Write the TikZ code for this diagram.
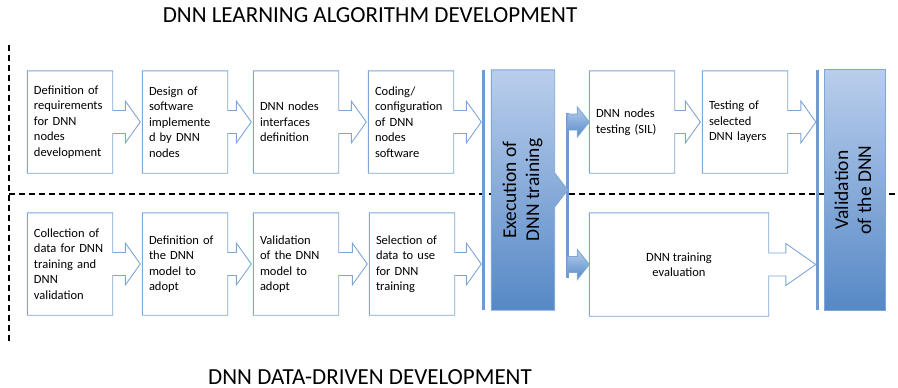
\documentclass[tikz,border=0pt]{standalone}
\usepackage{fontspec}
\setmainfont{Carlito}
\usetikzlibrary{calc, positioning, backgrounds}

\definecolor{boxline}{HTML}{7EA6D6}
\definecolor{barblue}{HTML}{6F9BD2}
\definecolor{shadetop}{HTML}{B9CEEC}
\definecolor{shadebot}{HTML}{5688C6}

\newcommand{\dnncell}{\fontsize{12.5}{15.5}\selectfont}
\newcommand{\dnnstage}{\fontsize{19.5}{23}\selectfont}
\newcommand{\dnntitle}{\fontsize{23}{28}\selectfont}

\newcommand{\callout}[3][15pt]{%
	\coordinate (tip) at ($(#2.east -| #3)+(-2pt,0)$);
	\draw[frame] (#2.north west) -- (#2.north east) -- ([yshift=11.5pt]#2.east) -- ($(tip)+(-#1,11.5pt)$) -- ($(tip)+(-#1,21pt)$) -- (tip) -- ($(tip)+(-#1,-21pt)$) -- ($(tip)+(-#1,-11.5pt)$) -- ([yshift=-11.5pt]#2.east) -- (#2.south east) -- (#2.south west) -- cycle;
}
\newcommand{\feed}[1]{%
	\shadedraw[blueshade] ($(fork |- #1.west)+(0,8pt)$) -- ($(#1.west)+(-12pt,8pt)$) -- ($(#1.west)+(-12pt,15pt)$) -- (#1.west) -- ($(#1.west)+(-12pt,-15pt)$) -- ($(#1.west)+(-12pt,-8pt)$) -- ($(fork |- #1.west)+(0,-8pt)$) -- cycle;
}

\begin{document}
\begin{tikzpicture}[x=1pt, y=1pt, node distance=115pt,
	taskbox/.style={text width=72pt, inner xsep=6.5pt, inner ysep=0pt, minimum height=102pt, align=left, font=\dnncell},
	stagebox/.style={minimum width=63pt, minimum height=240pt, inner sep=0pt, font=\dnnstage},
	frame/.style={draw=boxline, line width=0.9pt},
	gatebar/.style={draw=barblue, line width=3pt},
	separator/.style={line width=2.2pt, dash pattern=on 6pt off 4pt},
	blueshade/.style={top color=shadetop, bottom color=shadebot, draw=boxline, line width=0.9pt}]
	\useasboundingbox (0,0) rectangle (898,-388);

	\node[font=\dnntitle, anchor=base, inner sep=0pt] (toptitle) at (370,-23) {DNN LEARNING ALGORITHM DEVELOPMENT};
	\node[font=\dnntitle, anchor=base, inner sep=0pt] (bottitle) at (370,-384) {DNN DATA-DRIVEN DEVELOPMENT};

	\node[taskbox] (d1) at (70,-122) {Definition of\\requirements\\for DNN\\nodes\\development};
	\node[taskbox] (d2) [right of=d1] {Design of\\software\\implemente\\d by DNN\\nodes};
	\node[taskbox] (d3) [right of=d2, xshift=-4pt] {DNN nodes\\interfaces\\definition};
	\node[taskbox] (d4) [right of=d3] {Coding/\\configuration\\of DNN\\nodes\\software};

	\node[taskbox] (c1) [below of=d1, yshift=-27pt] {Collection of\\data for DNN\\training and\\DNN\\validation};
	\node[taskbox] (c2) [right of=c1] {Definition of\\the DNN\\model to\\adopt};
	\node[taskbox] (c3) [right of=c2, xshift=-4pt] {Validation\\of the DNN\\model to\\adopt};
	\node[taskbox] (c4) [right of=c3, xshift=1pt] {Selection of\\data to use\\for DNN\\training};

	\node[stagebox] (exec) [right of=d4, xshift=-3pt, yshift=-68pt] {\rotatebox{90}{\begin{tabular}{@{}c@{}}Execution of\\DNN training\end{tabular}}};

	\node[taskbox] (t1) [right of=exec, xshift=-6pt, yshift=68pt] {DNN nodes\\testing (SIL)};
	\node[taskbox] (t2) [right of=t1, xshift=-2pt] {Testing of\\selected\\DNN layers};
	\node[minimum width=179pt, minimum height=103pt, align=center, font=\dnncell] (ev) [below of=t1, yshift=-27.5pt, xshift=47pt] {DNN training\\evaluation};

	\node[stagebox, minimum width=60pt] (val) [right of=t2, xshift=-5pt, yshift=-68pt] {\rotatebox{90}{\begin{tabular}{@{}c@{}}Validation\\of the DNN\end{tabular}}};

	\coordinate (gate) at ([xshift=-8pt]exec.west);
	\coordinate (valgate) at ([xshift=-7pt]val.west);
	\coordinate (fork) at ([xshift=13pt]exec.east);

	\begin{scope}[on background layer]
		\draw[separator] (9,-45) -- (9,-342);
		\draw[separator] (9,-194) -- (898,-194);

		\callout{d1}{d2.west}
		\callout{d2}{d3.west}
		\callout{d3}{d4.west}
		\callout{d4}{gate}
		\callout{c1}{c2.west}
		\callout{c2}{c3.west}
		\callout{c3}{c4.west}
		\callout{c4}{gate}
		\callout{t1}{t2.west}
		\callout{t2}{valgate}
		\callout[30pt]{ev}{valgate}

		\draw[gatebar] (gate |- exec.north) -- (gate |- exec.south);
		\draw[gatebar] (valgate |- val.north) -- (valgate |- val.south);
		\draw[gatebar] ([yshift=77pt]fork) -- ([yshift=-88pt]fork);

		\shadedraw[blueshade] (exec.north west) -- (exec.north east) -- ([yshift=17pt]exec.east) -- (fork) -- ([yshift=-17pt]exec.east) -- (exec.south east) -- (exec.south west) -- cycle;
		\shadedraw[blueshade] (val.north west) rectangle (val.south east);

		\feed{t1}
		\feed{ev}
	\end{scope}
\end{tikzpicture}
\end{document}
